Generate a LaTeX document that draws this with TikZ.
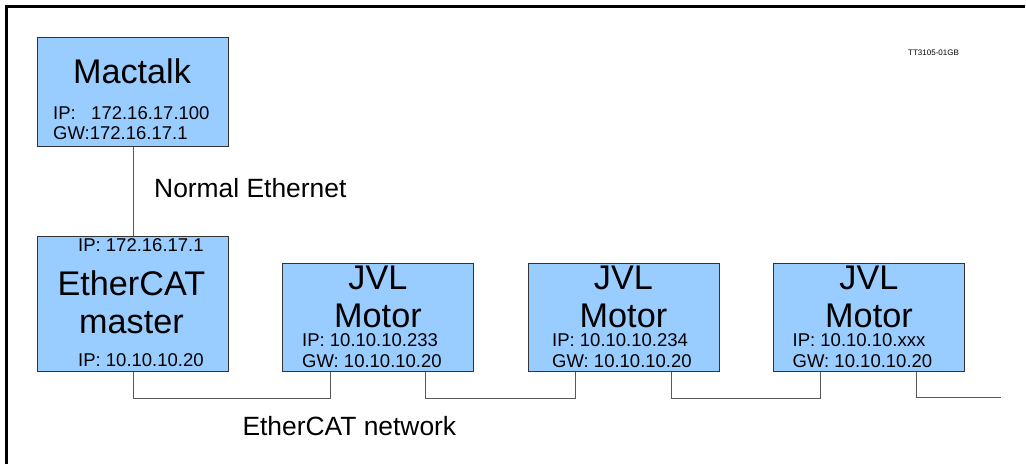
\documentclass[tikz,border=0pt]{standalone}
\usepackage{fontspec}
\setmainfont{Liberation Sans}
\usepackage{xcolor}
\usetikzlibrary{calc,positioning}
\definecolor{boxblue}{HTML}{99CCFF}
\newcommand{\bigtxt}{\fontsize{34.2}{34.2}\selectfont}
\newcommand{\iptxt}{\fontsize{18.5}{18.5}\selectfont}
\newcommand{\nettxt}{\fontsize{26.4}{26.4}\selectfont}

\begin{document}
\begin{tikzpicture}[x=1pt,y=-1pt,
  unit/.style={draw=black!80,line width=0.9pt,fill=boxblue,minimum width=191pt,anchor=north west,inner sep=0pt},
  big/.style={font=\bigtxt,inner sep=0pt,anchor=base},
  ip/.style={font=\iptxt,inner sep=0pt,anchor=base west},
  net/.style={font=\nettxt,inner sep=0pt,anchor=base west},
  wire/.style={draw=black!65,line width=0.9pt}]
  \useasboundingbox (0,0) rectangle (1026,464);
  % frame
  \draw[line width=3pt] (6.5,464) -- (6.5,6.5) -- (1025,6.5);
  \node[font=\fontsize{8}{8}\selectfont,inner sep=0pt,anchor=base west] (tag) at (908,55) {TT3105-01GB};

  % boxes
  \node[unit,minimum height=109pt] (mac) at (37,37) {};
  \node[unit,minimum height=135.5pt] (master) at (37,235.7) {};
  \node[unit,minimum height=108.5pt] (mot1) at (282,262.7) {};
  \node[unit,minimum height=108.5pt] (mot2) at (527.5,262.7) {};
  \node[unit,minimum height=108.5pt] (mot3) at (773,262.7) {};

  % Mactalk
  \node[big] (macname) at ($(mac.north)+(-1,46)$) {Mactalk};
  \node[ip] (macip) at ($(mac.north west)+(16,82.3)$) {IP:~~~172.16.17.100};
  \node[ip] (macgw) at ($(mac.north west)+(16,102.3)$) {GW:172.16.17.1};

  % master
  \node[ip] (mastin) at ($(master.north west)+(41,16)$) {IP: 172.16.17.1};
  \node[big] (mastname) at ($(master.north)+(-1.5,59.3)$) {EtherCAT};
  \node[big] (mastname2) at ($(master.north)+(-1.5,97.3)$) {master};
  \node[ip] (mastout) at ($(master.north west)+(41,131)$) {IP: 10.10.10.20};

  % motors
  \foreach \m/\dx/\addr in {mot1/20/233,mot2/24.5/234,mot3/19.5/xxx}{
    \node[big] (\m a) at ($(\m.north)+(0,27)$) {JVL};
    \node[big] (\m b) at ($(\m.north)+(0,65)$) {Motor};
    \node[ip] (\m c) at ($(\m.north west)+(\dx,84)$) {IP: 10.10.10.\addr};
    \node[ip] (\m d) at ($(\m.north west)+(\dx,104.6)$) {GW: 10.10.10.20};
  }

  % Normal Ethernet
  \draw[wire] (mac.south) -- (master.north);
  \node[net] (ethlbl) at (154,197) {Normal Ethernet};

  % EtherCAT bus
  \coordinate (in1) at ($(mot1.south west)+(48,0)$);
  \coordinate (out1) at ($(mot1.south west)+(143.7,0)$);
  \coordinate (in2) at ($(mot2.south west)+(48.2,0)$);
  \coordinate (out2) at ($(mot2.south west)+(143.8,0)$);
  \coordinate (in3) at ($(mot3.south west)+(47.7,0)$);
  \coordinate (out3) at ($(mot3.south west)+(143.3,0)$);
  \coordinate (busend) at (1001,397.3);
  \draw[wire] (master.south) -- ++(0,26.3) -| (in1);
  \draw[wire] (out1) -- ++(0,26.3) -| (in2);
  \draw[wire] (out2) -- ++(0,26.3) -| (in3);
  \draw[wire] (out3) |- (busend);
  \node[net] (catlbl) at (242.3,435) {EtherCAT network};
\end{tikzpicture}
\end{document}
